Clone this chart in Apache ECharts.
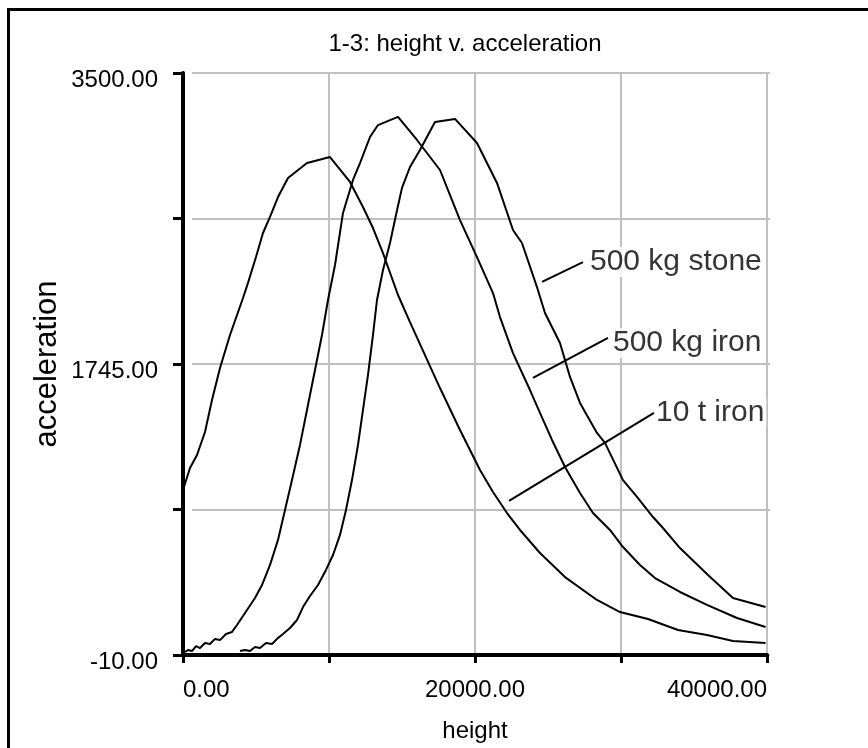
<!DOCTYPE html>
<html>
<head>
<meta charset="utf-8">
<script src="https://cdn.jsdelivr.net/npm/echarts@6/dist/echarts.min.js"></script>
<style>
html,body{margin:0;padding:0;background:#fff;}
#chart{width:868px;height:748px;}
</style>
</head>
<body>
<div id="chart"></div>
<script>
// ---- data ----
const chartTitle = '1-3: height v. acceleration';
const xAxisName = 'height';
const yAxisName = 'acceleration';
const yTickLabels = ['-10.00', '', '1745.00', '', '3500.00'];
const xLabelValues = [0, 20000, 40000];

const iron10tHeight = [0,479,959,1507,1986,2534,3219,4110,4452,4999,5479,5959,6507,7192,8493,10068,11438,12328,13013,13698,14726,15547,16575,17602,18972,20342,21232,22191,23082,24451,26164,28355,29931,31849,33903,35890,37670,39900];
const iron10tAccel  = [985,1118,1196,1335,1528,1721,1920,2143,2234,2390,2535,2632,2752,2867,2957,2993,2843,2692,2565,2414,2161,1998,1799,1600,1347,1106,973,846,744,605,460,322,249,207,141,111,74,62];

const iron500Height = [137,342,616,890,1164,1507,1849,2192,2534,2945,3356,3698,4383,4931,5411,5959,6507,6986,7465,8013,8561,9041,9520,9931,10411,10959,11643,12123,12808,13356,14726,16027,17602,18972,20136,21232,21712,22602,23766,24451,25273,26164,27191,28081,29246,30136,31301,32328,34040,35890,37944,39900];
const iron500Accel  = [8,20,14,44,32,62,56,87,80,117,129,171,261,334,412,533,684,865,1045,1257,1498,1709,1920,2131,2342,2656,2855,2957,3114,3186,3235,3096,2915,2613,2390,2173,2028,1811,1588,1450,1287,1124,967,846,744,641,533,454,370,292,213,159];

const stone500Height = [3904,4246,4589,4931,5274,5685,6096,6507,6849,7328,7808,8219,8698,9246,9794,10274,10753,11164,11575,11986,12328,12671,13013,13287,13698,14178,14588,14999,15547,16232,17259,18629,20136,21506,22602,23218,24245,24793,25821,26506,27191,28355,28903,30136,31095,32191,32875,34040,35958,37670,39900];
const stone500Accel  = [14,20,14,38,32,62,56,93,117,153,201,279,346,412,503,593,714,865,1045,1257,1468,1679,1920,2131,2312,2475,2644,2807,2933,3036,3205,3223,3078,2837,2553,2475,2209,2053,1872,1667,1510,1329,1269,1045,943,822,756,635,472,334,279];

const seriesNames = ['10 t iron', '500 kg iron', '500 kg stone'];

// annotation anchors (data units)
const annotations = [
  {text: '500 kg stone', lineFrom: [24588, 2240], lineTo: [27396, 2360], textAt: [27875, 2360]},
  {text: '500 kg iron',  lineFrom: [23972, 1661], lineTo: [29108, 1902], textAt: [29451, 1872]},
  {text: '10 t iron',    lineFrom: [22328, 919],  lineTo: [32259, 1450], textAt: [32396, 1450]}
];

// ---- build ----
const FONT = '"Liberation Sans", Arial, Helvetica, sans-serif';
function zip(a, b) { return a.map((v, i) => [v, b[i]]); }

const curves = [
  zip(iron10tHeight, iron10tAccel),
  zip(iron500Height, iron500Accel),
  zip(stone500Height, stone500Accel)
];

const series = curves.map((d, i) => ({
  name: seriesNames[i],
  type: 'line',
  xAxisIndex: 0, yAxisIndex: 0,
  data: d,
  showSymbol: false,
  symbol: 'none',
  lineStyle: {color: '#000', width: 2},
  silent: true,
  animation: false,
  z: 3
}));

annotations.forEach(a => {
  series.push({
    type: 'line', xAxisIndex: 0, yAxisIndex: 0,
    data: [a.lineFrom, a.lineTo],
    symbol: 'none', showSymbol: false,
    lineStyle: {color: '#000', width: 2},
    silent: true, animation: false, z: 4
  });
  series.push({
    type: 'scatter', xAxisIndex: 0, yAxisIndex: 0,
    data: [a.textAt],
    symbolSize: 0,
    silent: true, animation: false, z: 5,
    label: {
      show: true, position: 'right', distance: 0,
      formatter: a.text,
      fontFamily: FONT, fontSize: 30, color: '#000',
      backgroundColor: '#fff', padding: [0, 2, 0, 0]
    }
  });
});

const chart = echarts.init(document.getElementById('chart'), null, {renderer: 'canvas'});
chart.setOption({
  backgroundColor: '#fff',
  animation: false,
  title: {
    text: chartTitle,
    left: 460, top: 27, textAlign: 'center',
    textStyle: {fontFamily: FONT, fontSize: 24, fontWeight: 'normal', color: '#000'}
  },
  graphic: [{
    type: 'rect', silent: true,
    shape: {x: 8.5, y: 9.5, width: 1000, height: 1000},
    style: {fill: 'none', stroke: '#000', lineWidth: 3}
  }],
  grid: [
    {left: 183, top: 73, width: 584, height: 582, containLabel: false},
    {left: 192, top: 73, width: 578, height: 582, containLabel: false},
    {left: 183, top: 80, width: 584, height: 582, containLabel: false}
  ],
  xAxis: [
    {
      gridIndex: 0, type: 'value', min: 0, max: 40000, interval: 10000, z: 1,
      name: xAxisName, nameLocation: 'middle', nameGap: 64,
      nameTextStyle: {fontFamily: FONT, fontSize: 24, color: '#000'},
      axisLine: {show: true, onZero: false, lineStyle: {color: '#000', width: 4}},
      axisTick: {show: true, inside: false, length: 8, lineStyle: {color: '#000', width: 3}},
      axisLabel: {
        show: true, margin: 23, fontFamily: FONT, fontSize: 24, color: '#000',
        alignMinLabel: 'left', alignMaxLabel: 'right',
        formatter: v => xLabelValues.indexOf(v) >= 0 ? v.toFixed(2) : ''
      },
      splitLine: {show: true, lineStyle: {color: '#c0c0c0', width: 2}}
    },
    {gridIndex: 1, type: 'value', min: 0, max: 40000, show: false, splitLine: {show: false}},
    {gridIndex: 2, type: 'value', min: 0, max: 40000, show: false, splitLine: {show: false}}
  ],
  yAxis: [
    {
      gridIndex: 0, type: 'value', min: -10, max: 3500, z: 4,
      name: yAxisName, nameLocation: 'middle', nameGap: 120, nameRotate: 90,
      nameTextStyle: {fontFamily: FONT, fontSize: 31, color: '#000'},
      axisLine: {show: true, onZero: false, lineStyle: {color: '#000', width: 4}},
      axisTick: {show: false}, axisLabel: {show: false},
      splitLine: {show: false}
    },
    {
      gridIndex: 0, type: 'value', min: 0, max: 4, interval: 1, position: 'left', z: 4,
      axisLine: {show: false},
      axisTick: {show: true, inside: false, length: 10, lineStyle: {color: '#000', width: 3}},
      axisLabel: {show: false},
      splitLine: {show: false}
    },
    {
      gridIndex: 1, type: 'value', min: 0, max: 4, interval: 1, z: 0,
      axisLine: {show: false}, axisTick: {show: false}, axisLabel: {show: false},
      splitLine: {show: true, lineStyle: {color: '#c0c0c0', width: 2}}
    },
    {
      gridIndex: 2, type: 'value', min: 0, max: 4, interval: 1, position: 'left', z: 4,
      axisLine: {show: false}, axisTick: {show: false},
      axisLabel: {
        show: true, margin: 25, fontFamily: FONT, fontSize: 24, color: '#000',
        formatter: (v) => yTickLabels[Math.round(v)]
      },
      splitLine: {show: false}
    }
  ],
  series: series
});
</script>
</body>
</html>
